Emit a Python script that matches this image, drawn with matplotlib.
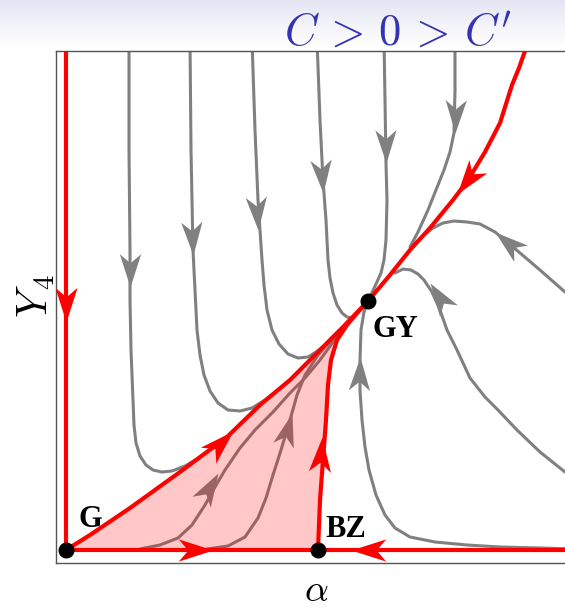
import numpy as np
import matplotlib
matplotlib.use("Agg")
import matplotlib.pyplot as plt
from matplotlib.markers import MarkerStyle
from matplotlib.path import Path
from matplotlib.transforms import Affine2D

plt.rcParams["mathtext.fontset"] = "cm"

# faz portresi: (alpha, Y4) noktalari, akis yonunde siralandi
red_left = [(0.0, 5.10), (0.0, 0.0)]
red_bottom_l = [(0.0, 0.0), (2.52, 0.0)]
red_bottom_r = [(5.30, 0.0), (2.52, 0.0)]
red_low = [(0.0, 0.0), (0.24, 0.15), (0.64, 0.42), (1.14, 0.78), (1.61, 1.13),
           (1.94, 1.45), (2.24, 1.70), (2.34, 1.80), (2.54, 2.00), (2.77, 2.23),
           (3.02, 2.49)]
red_high = [(4.66, 5.20), (4.59, 4.99), (4.53, 4.82), (4.46, 4.65), (4.34, 4.27),
            (4.19, 3.98), (4.02, 3.70), (3.87, 3.50), (3.64, 3.22), (3.44, 3.00),
            (3.24, 2.75), (3.02, 2.49)]
red_bz = [(2.52, 0.0), (2.54, 0.50), (2.57, 0.90), (2.60, 1.30), (2.62, 1.65),
          (2.65, 1.90), (2.71, 2.10), (2.81, 2.25), (2.92, 2.38), (3.02, 2.49)]

gray_a = [(0.63, 5.10), (0.63, 4.00), (0.64, 3.00), (0.64, 2.50), (0.65, 2.00),
          (0.67, 1.50), (0.68, 1.25), (0.70, 1.07), (0.74, 0.94), (0.80, 0.85),
          (0.87, 0.80), (0.96, 0.78), (1.06, 0.79), (1.19, 0.84), (1.31, 0.91),
          (1.41, 0.98)]
gray_b = [(1.24, 5.10), (1.25, 4.00), (1.27, 3.00), (1.31, 2.20), (1.34, 1.95),
          (1.38, 1.75), (1.44, 1.59), (1.52, 1.47), (1.62, 1.40), (1.74, 1.39),
          (1.86, 1.42), (1.99, 1.50), (2.12, 1.60), (2.24, 1.70)]
gray_c = [(1.86, 5.10), (1.89, 4.20), (1.92, 3.50), (1.96, 2.90), (1.98, 2.65),
          (2.01, 2.40), (2.06, 2.20), (2.13, 2.06), (2.22, 1.96), (2.32, 1.92),
          (2.42, 1.93), (2.50, 1.98), (2.58, 2.04)]
gray_d = [(2.51, 5.10), (2.54, 4.30), (2.57, 3.70), (2.60, 3.30), (2.62, 2.90),
          (2.64, 2.72), (2.67, 2.57), (2.71, 2.45), (2.76, 2.37), (2.81, 2.33),
          (2.86, 2.32)]
gray_e = [(3.18, 5.10), (3.19, 4.50), (3.20, 3.87), (3.21, 3.50), (3.20, 3.10),
          (3.18, 2.90), (3.15, 2.77), (3.10, 2.66), (3.04, 2.53)]
gray_f = [(3.89, 5.10), (3.89, 4.60), (3.88, 4.17), (3.84, 3.98), (3.78, 3.80),
          (3.72, 3.65), (3.62, 3.40), (3.52, 3.18), (3.44, 3.03)]
gray_g = [(5.09, 2.50), (4.99, 2.58), (4.74, 2.80), (4.47, 3.03), (4.29, 3.18),
          (4.14, 3.26), (4.01, 3.28), (3.88, 3.29), (3.77, 3.27), (3.67, 3.22),
          (3.58, 3.15), (3.47, 3.05)]
gray_h = [(5.09, 0.70), (4.99, 0.78), (4.74, 0.98), (4.51, 1.20), (4.32, 1.40),
          (4.19, 1.53), (4.04, 1.72), (3.91, 2.00), (3.81, 2.20), (3.74, 2.40),
          (3.66, 2.58), (3.58, 2.70), (3.52, 2.76), (3.45, 2.80), (3.37, 2.81),
          (3.29, 2.77)]
gray_i = [(5.09, 0.01), (4.74, 0.02), (4.34, 0.03), (4.01, 0.05), (3.69, 0.08),
          (3.44, 0.13), (3.29, 0.22), (3.19, 0.35), (3.10, 0.55), (3.03, 0.80),
          (2.99, 1.03), (2.96, 1.30), (2.94, 1.60), (2.94, 1.90), (2.95, 2.20),
          (2.98, 2.38), (3.02, 2.49)]
gray_j = [(0.74, 0.01), (0.94, 0.05), (1.12, 0.12), (1.26, 0.25), (1.39, 0.45),
          (1.49, 0.63), (1.59, 0.80), (1.74, 1.02), (1.89, 1.20), (2.07, 1.38),
          (2.24, 1.57), (2.39, 1.72), (2.54, 1.90), (2.67, 2.08), (2.79, 2.23)]
gray_k = [(1.41, 0.01), (1.62, 0.04), (1.79, 0.13), (1.92, 0.32), (2.00, 0.52),
          (2.07, 0.75), (2.15, 1.00), (2.24, 1.30), (2.31, 1.55), (2.39, 1.75),
          (2.52, 1.95), (2.67, 2.12), (2.82, 2.28)]

# ok uclari (her egri icin)
red_curves = {"left": (red_left, [(0.0, 2.28)]),
              "bottom_l": (red_bottom_l, [(1.47, 0.0)]),
              "bottom_r": (red_bottom_r, [(2.85, 0.0)]),
              "low": (red_low, [(1.67, 1.19)]),
              "high": (red_high, [(3.91, 3.56)]),
              "bz": (red_bz, [(2.56, 1.13)])}
gray_curves = {"a": (gray_a, [(0.64, 2.63)]),
               "b": (gray_b, [(1.27, 2.95)]),
               "c": (gray_c, [(1.92, 3.20)]),
               "d": (gray_d, [(2.57, 3.57)]),
               "e": (gray_e, [(3.20, 3.87)]),
               "f": (gray_f, [(3.89, 4.17)]),
               "g": (gray_g, [(4.29, 3.18)]),
               "h": (gray_h, [(3.64, 2.67)]),
               "i": (gray_i, [(2.94, 1.93)]),
               "j": (gray_j, [(1.52, 0.77)]),
               "k": (gray_k, [(2.26, 1.37)])}

nokta_isim = ["G", "BZ", "GY"]
nokta_x = [0.0, 2.52, 3.02]
nokta_y = [0.0, 0.0, 2.49]
etiket_x = [0.13, 2.59, 3.07]
etiket_y = [0.23, 0.13, 2.13]

KIRMIZI = "#ff0000"
GRI = "#808080"

# mathematica tarzi ok ucu (uc noktasi orijinde)
ok_yolu = Path([(0, 0), (-2, 0.64), (-1.45, 0), (-2, -0.64), (0, 0)],
               [Path.MOVETO, Path.LINETO, Path.LINETO, Path.LINETO, Path.CLOSEPOLY])


def yon(egri, px, py):
    # ok ucuna en yakin parcanin yonunu bul
    xs = [p[0] for p in egri]
    ys = [p[1] for p in egri]
    en_iyi = None
    for i in range(len(xs) - 1):
        dx, dy = xs[i + 1] - xs[i], ys[i + 1] - ys[i]
        L2 = dx * dx + dy * dy
        t = max(0.0, min(1.0, ((px - xs[i]) * dx + (py - ys[i]) * dy) / L2))
        d = (xs[i] + t * dx - px) ** 2 + (ys[i] + t * dy - py) ** 2
        if en_iyi is None or d < en_iyi[0]:
            en_iyi = (d, dx, dy)
    return np.degrees(np.arctan2(en_iyi[2], en_iyi[1]))


def egri_ciz(ax, egriler, renk, lw, ok_boy, z):
    for ad, (egri, uclar) in egriler.items():
        xs = [p[0] for p in egri]
        ys = [p[1] for p in egri]
        ax.plot(xs, ys, color=renk, lw=lw, zorder=z, solid_capstyle="round",
                solid_joinstyle="round")
        for (ux, uy) in uclar:
            aci = yon(egri, ux, uy)
            m = MarkerStyle(ok_yolu, transform=Affine2D().rotate_deg(aci))
            ax.plot([ux], [uy], marker=m, markersize=ok_boy, color=renk,
                    markeredgewidth=0, zorder=z + 0.1)


fig = plt.figure(figsize=(5.65, 6.11), dpi=100)

# ustteki hafif mor gecisli bant
bant = fig.add_axes([0, 1 - 46 / 611, 1, 46 / 611], zorder=-5)
grad = np.linspace(0, 1, 100).reshape(-1, 1)
renk_ust = np.array([0.90, 0.90, 0.955])
img = renk_ust[None, None, :] * (1 - grad[:, :, None]) + np.ones(3)[None, None, :] * grad[:, :, None]
bant.imshow(img, aspect="auto", extent=[0, 1, 0, 1])
bant.axis("off")

ax = fig.add_axes([56 / 565, 48 / 611, 519 / 565, 512 / 611])
ax.set_xlim(-0.10, 5.09)
ax.set_ylim(-0.13, 4.99)
ax.set_xticks([])
ax.set_yticks([])
for s in ax.spines.values():
    s.set_color("#555555")
    s.set_linewidth(1.0)

egri_ciz(ax, gray_curves, GRI, 2.2, 48, 2)

# golgeli bolge: G -> GY -> BZ -> G
bolge = red_low + red_bz[::-1]
ax.fill([p[0] for p in bolge], [p[1] for p in bolge], color="red", alpha=0.22,
        lw=0, zorder=3)

egri_ciz(ax, red_curves, KIRMIZI, 3.0, 50, 4)

ax.plot(nokta_x, nokta_y, "o", color="black", markersize=10.5, zorder=6,
        clip_on=False)
for isim, ex, ey in zip(nokta_isim, etiket_x, etiket_y):
    ax.text(ex, ey, isim, fontsize=22, fontweight="bold", family="Liberation Serif",
            ha="left", va="baseline", zorder=7)

fig.text(512 / 565, 1 - 46 / 611, r"$C\, >\, 0\, >\, C'$", color="#3333b3",
         fontsize=32, ha="right", va="baseline")
fig.text(36 / 565, 1 - 296 / 611, r"$Y_{\,4}$", fontsize=30, rotation=90,
         ha="center", va="center")
fig.text(316 / 565, 1 - 601 / 611, r"$\alpha$", fontsize=27, ha="center",
         va="baseline")

fig.savefig("out.png", dpi=100)
